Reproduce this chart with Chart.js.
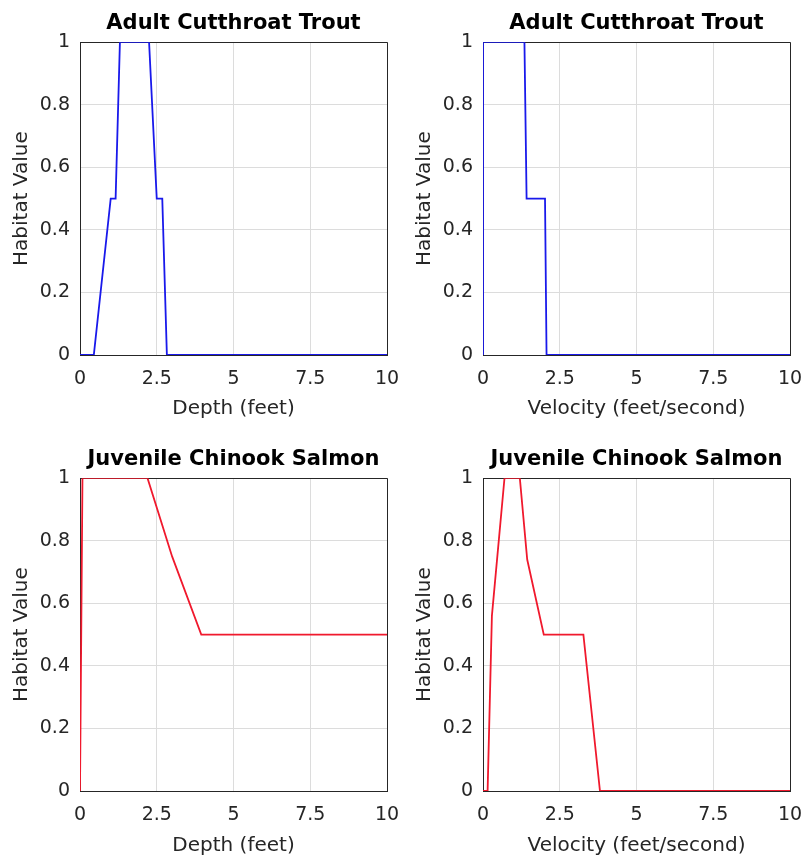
<!DOCTYPE html>
<html>
<head>
<meta charset="utf-8">
<script src="https://cdn.jsdelivr.net/npm/chart.js@4.4.0/dist/chart.umd.min.js"></script>
<style>
body { margin: 0; background: #fff; }
canvas { position: absolute; }
</style>
</head>
<body>
<canvas id="c1" width="403" height="430" style="left:0;top:0"></canvas>
<canvas id="c2" width="403" height="430" style="left:403px;top:0"></canvas>
<canvas id="c3" width="403" height="429" style="left:0;top:430px"></canvas>
<canvas id="c4" width="403" height="429" style="left:403px;top:430px"></canvas>
<script>
// habitat curves
const troutDepthX = [0, 0.45, 1.0, 1.16, 1.3, 2.25, 2.5, 2.68, 2.83, 10];
const troutDepthY = [0, 0, 0.5, 0.5, 1, 1, 0.5, 0.5, 0, 0];

const troutVelX = [0, 0, 1.35, 1.42, 2.02, 2.07, 10];
const troutVelY = [0, 1, 1, 0.5, 0.5, 0, 0];

const chinookDepthX = [0, 0.08, 2.2, 3.0, 3.95, 10];
const chinookDepthY = [0, 1, 1, 0.75, 0.5, 0.5];

const chinookVelX = [0, 0.15, 0.29, 0.7, 1.2, 1.44, 1.98, 3.27, 3.81, 10];
const chinookVelY = [0, 0, 0.56, 1, 1, 0.74, 0.5, 0.5, 0, 0];

const xTicks = [0, 2.5, 5, 7.5, 10];
const yTicks = [0, 0.2, 0.4, 0.6, 0.8, 1];

const titles = ['Adult Cutthroat Trout', 'Adult Cutthroat Trout', 'Juvenile Chinook Salmon', 'Juvenile Chinook Salmon'];
const xLabels = ['Depth (feet)', 'Velocity (feet/second)', 'Depth (feet)', 'Velocity (feet/second)'];
const yLabel = 'Habitat Value';

Chart.defaults.font.family = "'DejaVu Sans', sans-serif";
Chart.defaults.color = '#262626';

const dark = '#262626';
const light = '#dcdcdc';

function fmt(v) {
    return String(Number(v.toFixed(2)));
}

function makeChart(id, title, xLabel, xs, ys, color, top) {
    let pts = xs.map((x, i) => ({x: x, y: ys[i]}));
    let xHeight = top ? 75 : 68;

    new Chart(document.getElementById(id), {
        type: 'scatter',
        data: {
            datasets: [{
                data: pts,
                showLine: true,
                borderColor: color,
                borderWidth: 1.8,
                pointRadius: 0,
                tension: 0
            }]
        },
        options: {
            responsive: false,
            animation: false,
            layout: { padding: { left: 0, right: 16, top: 0, bottom: 0 } },
            plugins: {
                legend: { display: false },
                tooltip: { enabled: false },
                title: {
                    display: true,
                    fullSize: false,
                    text: title,
                    color: '#000',
                    font: { size: 21, weight: 'bold' },
                    padding: { top: top ? 11 : 17, bottom: 6 }
                }
            },
            scales: {
                x: {
                    type: 'linear',
                    min: 0,
                    max: 10,
                    afterFit: (s) => {
                        s.height = xHeight;
                        s.paddingLeft = 0;
                        s.paddingRight = 0;
                    },
                    afterBuildTicks: (s) => { s.ticks = xTicks.map(v => ({value: v})); },
                    ticks: { font: { size: 19 }, padding: 13, maxRotation: 0, callback: (v) => fmt(v) },
                    grid: {
                        drawTicks: false,
                        color: (c) => (c.tick && c.tick.value === 10) ? dark : light
                    },
                    border: { display: true, color: dark, width: 1 },
                    title: {
                        display: true,
                        text: xLabel,
                        font: { size: 20 },
                        padding: { top: 0, bottom: top ? 9 : 1 }
                    }
                },
                y: {
                    min: 0,
                    max: 1,
                    afterFit: (s) => {
                        s.width = 80;
                        s.paddingTop = 0;
                        s.paddingBottom = 0;
                    },
                    afterBuildTicks: (s) => { s.ticks = yTicks.map(v => ({value: v})); },
                    ticks: { font: { size: 19 }, padding: 10, callback: (v) => fmt(v) },
                    grid: {
                        drawTicks: false,
                        color: (c) => (c.tick && c.tick.value === 1) ? dark : light
                    },
                    border: { display: true, color: dark, width: 1 },
                    title: {
                        display: true,
                        text: yLabel,
                        font: { size: 20 },
                        padding: { top: 10, bottom: 0 }
                    }
                }
            }
        }
    });
}

makeChart('c1', titles[0], xLabels[0], troutDepthX, troutDepthY, 'rgb(25,25,235)', true);
makeChart('c2', titles[1], xLabels[1], troutVelX, troutVelY, 'rgb(25,25,235)', true);
makeChart('c3', titles[2], xLabels[2], chinookDepthX, chinookDepthY, 'rgb(240,25,45)', false);
makeChart('c4', titles[3], xLabels[3], chinookVelX, chinookVelY, 'rgb(240,25,45)', false);
</script>
</body>
</html>
